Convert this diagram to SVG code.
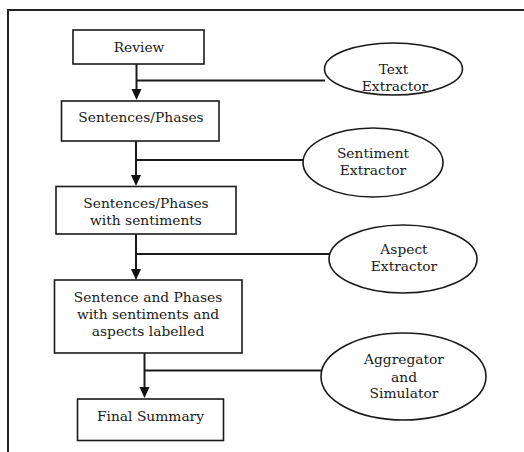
<svg xmlns="http://www.w3.org/2000/svg" width="524" height="452" viewBox="0 0 524 452">
  <defs>
    <style>
      .box { fill: #ffffff; stroke: #1a1a1a; stroke-width: 1.6; }
      .ell { fill: #ffffff; stroke: #1a1a1a; stroke-width: 1.6; }
      .frame { fill: none; stroke: #222222; stroke-width: 2; }
      .conn { fill: none; stroke: #1a1a1a; stroke-width: 2; }
      .lbl { font-family: "DejaVu Serif", "Liberation Serif", serif; font-size: 13.8px; fill: #1a1a1a; text-anchor: middle; }
    </style>
    <marker id="arrow" markerWidth="10" markerHeight="11" refX="5" refY="11" orient="auto-start-reverse" markerUnits="userSpaceOnUse" viewBox="0 0 10 11">
      <path d="M0,0 L10,0 L5,11 Z" fill="#111111"/>
    </marker>
  </defs>
  <rect x="0" y="0" width="524" height="452" fill="#ffffff"/>
  <path class="frame" d="M8,452 L8,10 L524,10"/>

  <g id="connectors">
    <line class="conn" x1="136.5" y1="64" x2="136.5" y2="90"/>
    <path d="M131.5,89 L141.5,89 L136.5,100 Z" fill="#111"/>
    <line class="conn" x1="136.5" y1="80.5" x2="325" y2="80.5"/>

    <line class="conn" x1="136" y1="141" x2="136" y2="176"/>
    <path d="M131,175 L141,175 L136,186 Z" fill="#111"/>
    <line class="conn" x1="136" y1="160" x2="303" y2="160"/>

    <line class="conn" x1="136" y1="234" x2="136" y2="270"/>
    <path d="M131,269 L141,269 L136,280 Z" fill="#111"/>
    <line class="conn" x1="136" y1="254" x2="329" y2="254"/>

    <line class="conn" x1="144.5" y1="353" x2="144.5" y2="388"/>
    <path d="M139.5,387 L149.5,387 L144.5,398 Z" fill="#111"/>
    <line class="conn" x1="144.5" y1="370.5" x2="321" y2="370.5"/>
  </g>

  <g id="review">
    <rect class="box" x="73" y="30" width="131" height="34"/>
    <text class="lbl" x="139" y="51.5">Review</text>
  </g>
  <g id="sentences">
    <rect class="box" x="61.5" y="101" width="157.5" height="40"/>
    <text class="lbl" x="141" y="122">Sentences/Phases</text>
  </g>
  <g id="sentences-sentiments">
    <rect class="box" x="56" y="186.5" width="180" height="47.5"/>
    <text class="lbl" x="146" y="208.3">Sentences/Phases</text>
    <text class="lbl" x="146" y="225">with sentiments</text>
  </g>
  <g id="sentence-aspects">
    <rect class="box" x="54.5" y="280" width="187.5" height="73"/>
    <text class="lbl" x="148" y="302.3">Sentence and Phases</text>
    <text class="lbl" x="148" y="319.3">with sentiments and</text>
    <text class="lbl" x="148" y="336">aspects labelled</text>
  </g>
  <g id="final-summary">
    <rect class="box" x="77.5" y="399" width="146" height="41.5"/>
    <text class="lbl" x="150.5" y="420.7">Final Summary</text>
  </g>

  <g id="text-extractor">
    <ellipse class="ell" cx="393.5" cy="69" rx="69" ry="26"/>
    <text class="lbl" x="393.5" y="74.3">Text</text>
    <text class="lbl" x="395" y="90.7">Extractor</text>
  </g>
  <g id="sentiment-extractor">
    <ellipse class="ell" cx="373" cy="162.5" rx="70" ry="34.5"/>
    <text class="lbl" x="373" y="158.3">Sentiment</text>
    <text class="lbl" x="373" y="175">Extractor</text>
  </g>
  <g id="aspect-extractor">
    <ellipse class="ell" cx="403" cy="259" rx="74" ry="34"/>
    <text class="lbl" x="404" y="254">Aspect</text>
    <text class="lbl" x="404" y="270.7">Extractor</text>
  </g>
  <g id="aggregator">
    <ellipse class="ell" cx="403.5" cy="376.5" rx="82.5" ry="43.5"/>
    <text class="lbl" x="404" y="364.3">Aggregator</text>
    <text class="lbl" x="404" y="381.7">and</text>
    <text class="lbl" x="404" y="398.3">Simulator</text>
  </g>
</svg>
